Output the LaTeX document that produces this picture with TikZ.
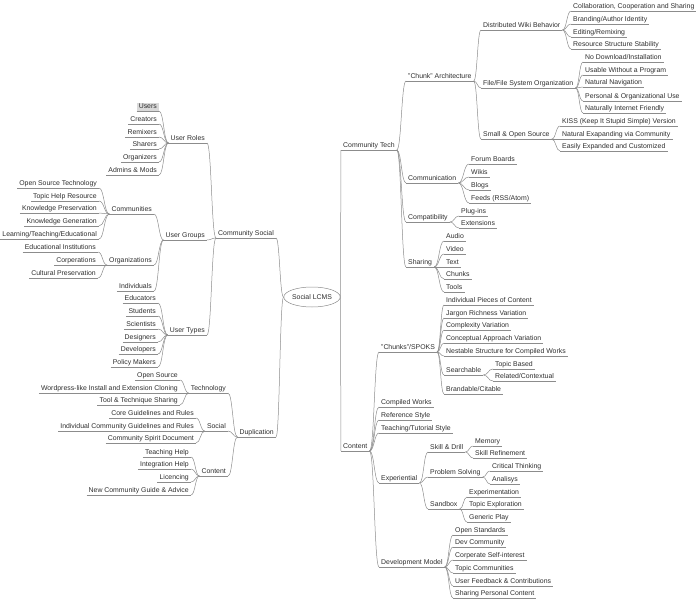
\documentclass[tikz,border=0pt]{standalone}
\usepackage{fontspec}
\setmainfont{Liberation Sans}
\usetikzlibrary{calc,shapes.geometric}
\definecolor{linec}{HTML}{8C8C8C}
\definecolor{textc}{HTML}{2E2E2E}
\definecolor{selc}{HTML}{D9D9D9}
\begin{document}
\begin{tikzpicture}[x=1pt,y=-1pt,
  base/.style={font=\fontsize{6.9}{8}\selectfont, text=textc, inner xsep=2pt, inner ysep=0.5pt,
    text height=5pt, text depth=1.5pt,
    append after command={(\tikzlastnode.south west) edge[draw=linec, line width=0.5pt] (\tikzlastnode.south east)}},
  L/.style={base, anchor=south east},
  R/.style={base, anchor=south west},
  ell/.style={ellipse, draw=linec, line width=0.5pt, minimum width=50pt, minimum height=20pt,
    inner sep=0pt, font=\fontsize{6.9}{8}\selectfont, text=textc},
  conn/.style={draw=linec, line width=0.5pt,
    to path={let \p1=(\tikztostart), \p2=(\tikztotarget) in
      .. controls ({0.5*\x1+0.5*\x2},\y1) and ({0.5*\x1+0.5*\x2},\y2) .. (\tikztotarget)}}
]
\useasboundingbox (0,0) rectangle (696,599);

% root
\node[ell] (root) at (312,297) {Social LCMS};

% ---------- left side ----------
\node[L] (cs) at (276,238) {Community Social};
\node[L] (dup) at (276,437) {Duplication};

\node[L] (ur) at (207,143) {User Roles};
\node[L] (ug) at (207,240) {User Groups};
\node[L] (ut) at (207,335) {User Types};

\node[L, fill=selc] (ur1) at (159,111) {Users};
\node[L] (ur2) at (159,124) {Creators};
\node[L] (ur3) at (159,137) {Remixers};
\node[L] (ur4) at (159,149) {Sharers};
\node[L] (ur5) at (159,162) {Organizers};
\node[L] (ur6) at (159,175) {Admins \& Mods};

\node[L] (comm) at (154,214) {Communities};
\node[L] (org) at (154,265) {Organizations};
\node[L] (ind) at (154,291) {Individuals};

\node[L] (cm1) at (99,188) {Open Source Technology};
\node[L] (cm2) at (99,201) {Topic Help Resource};
\node[L] (cm3) at (99,213) {Knowledge Preservation};
\node[L] (cm4) at (99,226) {Knowledge Generation};
\node[L] (cm5) at (99,239) {Learning/Teaching/Educational};

\node[L] (or1) at (98,252) {Educational Institutions};
\node[L] (or2) at (98,265) {Corperations};
\node[L] (or3) at (98,278) {Cultural Preservation};

\node[L] (ut1) at (158,303) {Educators};
\node[L] (ut2) at (158,316) {Students};
\node[L] (ut3) at (158,329) {Scientists};
\node[L] (ut4) at (158,342) {Designers};
\node[L] (ut5) at (158,354) {Developers};
\node[L] (ut6) at (158,367) {Policy Makers};

\node[L] (tech) at (228,393) {Technology};
\node[L] (soc) at (228,431) {Social};
\node[L] (dcont) at (228,476) {Content};

\node[L] (te1) at (180,380) {Open Source};
\node[L] (te2) at (180,393) {Wordpress-like Install and Extension Cloning};
\node[L] (te3) at (180,405) {Tool \& Technique Sharing};

\node[L] (so1) at (196,418) {Core Guidelines and Rules};
\node[L] (so2) at (196,431) {Individual Community Guidelines and Rules};
\node[L] (so3) at (196,443) {Community Spirit Document};

\node[L] (dc1) at (191,457) {Teaching Help};
\node[L] (dc2) at (191,469) {Integration Help};
\node[L] (dc3) at (191,482) {Licencing};
\node[L] (dc4) at (191,495) {New Community Guide \& Advice};

% ---------- right side ----------
\node[R] (ct) at (341,150) {Community Tech};
\node[R] (cont) at (341,451) {Content};

\node[R] (arch) at (406,81) {"Chunk" Architecture};
\node[R] (comu) at (406,183) {Communication};
\node[R] (comp) at (406,222) {Compatibility};
\node[R] (shar) at (406,267) {Sharing};

\node[R] (dwb) at (481,30) {Distributed Wiki Behavior};
\node[R] (ffso) at (481,88) {File/File System Organization};
\node[R] (sos) at (481,139) {Small \& Open Source};

\node[R] (dw1) at (571,11) {Collaboration, Cooperation and Sharing};
\node[R] (dw2) at (571,24) {Branding/Author Identity};
\node[R] (dw3) at (571,37) {Editing/Remixing};
\node[R] (dw4) at (571,49) {Resource Structure Stability};

\node[R] (ff1) at (583,62) {No Download/Installation};
\node[R] (ff2) at (583,75) {Usable Without a Program};
\node[R] (ff3) at (583,87) {Natural Navigation};
\node[R] (ff4) at (583,101) {Personal \& Organizational Use};
\node[R] (ff5) at (583,113) {Naturally Internet Friendly};

\node[R] (so1r) at (560,126) {KISS (Keep It Stupid Simple) Version};
\node[R] (so2r) at (560,139) {Natural Exapanding via Community};
\node[R] (so3r) at (560,151) {Easily Expanded and Customized};

\node[R] (cu1) at (469,164) {Forum Boards};
\node[R] (cu2) at (469,177) {Wikis};
\node[R] (cu3) at (469,190) {Blogs};
\node[R] (cu4) at (469,203) {Feeds (RSS/Atom)};

\node[R] (cp1) at (459,216) {Plug-ins};
\node[R] (cp2) at (459,228) {Extensions};

\node[R] (sh1) at (444,241) {Audio};
\node[R] (sh2) at (444,254) {Video};
\node[R] (sh3) at (444,267) {Text};
\node[R] (sh4) at (444,279) {Chunks};
\node[R] (sh5) at (444,292) {Tools};

\node[R] (spoks) at (379,352) {"Chunks"/SPOKS};
\node[R] (cw) at (379,407) {Compiled Works};
\node[R] (rs) at (379,420) {Reference Style};
\node[R] (tts) at (379,433) {Teaching/Tutorial Style};
\node[R] (exp) at (379,483) {Experiential};
\node[R] (dm) at (379,567) {Development Model};

\node[R] (sp1) at (444,305) {Individual Pieces of Content};
\node[R] (sp2) at (444,318) {Jargon Richness Variation};
\node[R] (sp3) at (444,330) {Complexity Variation};
\node[R] (sp4) at (444,343) {Conceptual Approach Variation};
\node[R] (sp5) at (444,356) {Nestable Structure for Compiled Works};
\node[R] (srch) at (444,375) {Searchable};
\node[R] (sp7) at (444,394) {Brandable/Citable};

\node[R] (se1) at (493,369) {Topic Based};
\node[R] (se2) at (493,381) {Related/Contextual};

\node[R] (sd) at (428,452) {Skill \& Drill};
\node[R] (ps) at (428,477) {Problem Solving};
\node[R] (sb) at (428,509) {Sandbox};

\node[R] (sd1) at (473,446) {Memory};
\node[R] (sd2) at (473,458) {Skill Refinement};

\node[R] (ps1) at (490,471) {Critical Thinking};
\node[R] (ps2) at (490,484) {Analisys};

\node[R] (sb1) at (467,497) {Experimentation};
\node[R] (sb2) at (467,509) {Topic Exploration};
\node[R] (sb3) at (467,522) {Generic Play};

\node[R] (dm1) at (453,535) {Open Standards};
\node[R] (dm2) at (453,547) {Dev Community};
\node[R] (dm3) at (453,560) {Corperate Self-interest};
\node[R] (dm4) at (453,573) {Topic Communities};
\node[R] (dm5) at (453,586) {User Feedback \& Contributions};
\node[R] (dm6) at (453,598) {Sharing Personal Content};

% ---------- connectors ----------
\foreach \c in {cs,dup} \draw[conn] (root.west) to (\c.south east);
\foreach \c in {ct,cont} \draw[conn] (root.east) to (\c.south west);

\foreach \c in {ur,ug,ut} \draw[conn] (cs.south west) to (\c.south east);
\foreach \c in {ur1,ur2,ur3,ur4,ur5,ur6} \draw[conn] (ur.south west) to (\c.south east);
\foreach \c in {comm,org,ind} \draw[conn] (ug.south west) to (\c.south east);
\foreach \c in {cm1,cm2,cm3,cm4,cm5} \draw[conn] (comm.south west) to (\c.south east);
\foreach \c in {or1,or2,or3} \draw[conn] (org.south west) to (\c.south east);
\foreach \c in {ut1,ut2,ut3,ut4,ut5,ut6} \draw[conn] (ut.south west) to (\c.south east);
\foreach \c in {tech,soc,dcont} \draw[conn] (dup.south west) to (\c.south east);
\foreach \c in {te1,te2,te3} \draw[conn] (tech.south west) to (\c.south east);
\foreach \c in {so1,so2,so3} \draw[conn] (soc.south west) to (\c.south east);
\foreach \c in {dc1,dc2,dc3,dc4} \draw[conn] (dcont.south west) to (\c.south east);

\foreach \c in {arch,comu,comp,shar} \draw[conn] (ct.south east) to (\c.south west);
\foreach \c in {dwb,ffso,sos} \draw[conn] (arch.south east) to (\c.south west);
\foreach \c in {dw1,dw2,dw3,dw4} \draw[conn] (dwb.south east) to (\c.south west);
\foreach \c in {ff1,ff2,ff3,ff4,ff5} \draw[conn] (ffso.south east) to (\c.south west);
\foreach \c in {so1r,so2r,so3r} \draw[conn] (sos.south east) to (\c.south west);
\foreach \c in {cu1,cu2,cu3,cu4} \draw[conn] (comu.south east) to (\c.south west);
\foreach \c in {cp1,cp2} \draw[conn] (comp.south east) to (\c.south west);
\foreach \c in {sh1,sh2,sh3,sh4,sh5} \draw[conn] (shar.south east) to (\c.south west);
\foreach \c in {spoks,cw,rs,tts,exp,dm} \draw[conn] (cont.south east) to (\c.south west);
\foreach \c in {sp1,sp2,sp3,sp4,sp5,srch,sp7} \draw[conn] (spoks.south east) to (\c.south west);
\foreach \c in {se1,se2} \draw[conn] (srch.south east) to (\c.south west);
\foreach \c in {sd,ps,sb} \draw[conn] (exp.south east) to (\c.south west);
\foreach \c in {sd1,sd2} \draw[conn] (sd.south east) to (\c.south west);
\foreach \c in {ps1,ps2} \draw[conn] (ps.south east) to (\c.south west);
\foreach \c in {sb1,sb2,sb3} \draw[conn] (sb.south east) to (\c.south west);
\foreach \c in {dm1,dm2,dm3,dm4,dm5,dm6} \draw[conn] (dm.south east) to (\c.south west);
\end{tikzpicture}
\end{document}
